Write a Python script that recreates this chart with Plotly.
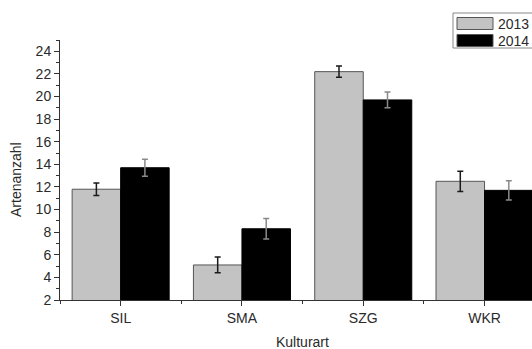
import plotly.graph_objects as go

categories = ["SIL", "SMA", "SZG", "WKR"]
values_2013 = [11.8, 5.1, 22.2, 12.5]
errors_2013 = [0.55, 0.7, 0.5, 0.9]
values_2014 = [13.7, 8.3, 19.7, 11.7]
errors_2014 = [0.75, 0.9, 0.7, 0.85]
series_names = ["2013", "2014"]

W, H = 532, 349
ML, MR, MT, MB = 60, 0, 40, 49
PW, PH = W - ML - MR, H - MT - MB

def px_x(x):
    return (x - ML) / PW

def px_y(y):
    return (H - MB - y) / PH

FONT = "Liberation Sans, Arial, sans-serif"
TXT = "#2a2a2a"

xpos = list(range(len(categories)))

fig = go.Figure()
fig.add_trace(go.Bar(
    x=xpos, y=values_2013, name=series_names[0],
    marker=dict(color="#c3c3c3", line=dict(color="#555555", width=1)),
    error_y=dict(type="data", array=errors_2013, color="#1a1a1a", thickness=1.5, width=3),
    showlegend=False,
))
fig.add_trace(go.Bar(
    x=xpos, y=values_2014, name=series_names[1],
    marker=dict(color="#000000", line=dict(color="#000000", width=1)),
    error_y=dict(type="data", array=errors_2014, color="#8a8a8a", thickness=1.5, width=3),
    showlegend=False,
))

fig.update_layout(
    width=W, height=H,
    margin=dict(l=ML, r=MR, t=MT, b=MB, pad=0),
    paper_bgcolor="white", plot_bgcolor="white",
    barmode="group", bargap=0.2, bargroupgap=0,
    font=dict(family=FONT, color=TXT, size=14),
    showlegend=False,
)
fig.update_xaxes(
    range=[-0.5, -0.5 + PW / 121.3],
    tickmode="array", tickvals=xpos, ticktext=categories,
    ticks="outside", ticklen=5, tickwidth=1, tickcolor="#333",
    showline=True, linecolor="#333", linewidth=1,
    showgrid=False, zeroline=False,
    tickfont=dict(size=14, color=TXT),
    minor=dict(tick0=0.5, dtick=1, ticks="outside", ticklen=3, tickcolor="#333", showgrid=False),
)
fig.update_yaxes(
    range=[2, 25], tick0=2, dtick=2,
    ticks="outside", ticklen=5, tickwidth=1, tickcolor="#333",
    showline=True, linecolor="#333", linewidth=1,
    showgrid=False, zeroline=False,
    tickfont=dict(size=14, color=TXT),
    minor=dict(tick0=2, dtick=1, ticks="outside", ticklen=3, tickcolor="#333", showgrid=False),
)

# axis titles
fig.add_annotation(text="Artenanzahl", xref="paper", yref="paper",
                   x=px_x(16), y=px_y(180), textangle=-90, showarrow=False,
                   font=dict(size=14, color=TXT), xanchor="center", yanchor="middle")
fig.add_annotation(text="Kulturart", xref="paper", yref="paper",
                   x=px_x(302), y=px_y(342), showarrow=False,
                   font=dict(size=14, color=TXT), xanchor="center", yanchor="middle")

# custom legend
fig.add_shape(type="rect", xref="paper", yref="paper",
              x0=px_x(453), x1=px_x(545), y0=px_y(48), y1=px_y(13),
              line=dict(color="#888888", width=1), fillcolor="white", layer="above")
legend_colors = ["#c3c3c3", "#000000"]
sw_y = [(17.5, 29.5), (34.5, 46.5)]
for name, col, (ya, yb) in zip(series_names, legend_colors, sw_y):
    fig.add_shape(type="rect", xref="paper", yref="paper",
                  x0=px_x(457), x1=px_x(493), y0=px_y(yb), y1=px_y(ya),
                  line=dict(color="#555555", width=1), fillcolor=col, layer="above")
    fig.add_annotation(text=name, xref="paper", yref="paper",
                       x=px_x(496), y=px_y((ya + yb) / 2), showarrow=False,
                       xanchor="left", yanchor="middle",
                       font=dict(size=14, color=TXT))

fig.write_html(
    "out.html",
    config={"displayModeBar": False},
    post_script="document.body.style.margin='0';document.body.style.overflow='hidden';",
)
